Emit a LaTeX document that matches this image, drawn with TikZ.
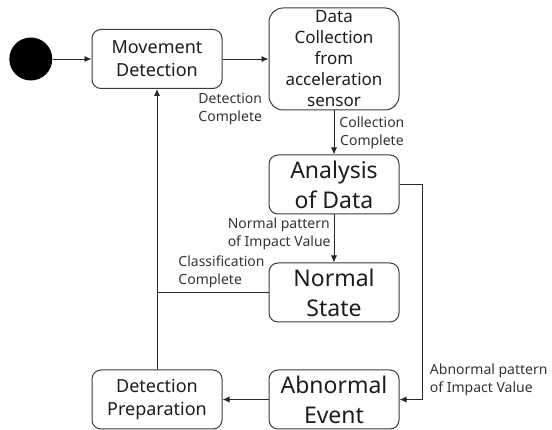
\documentclass[tikz,border=0pt]{standalone}
\usepackage{fontspec}
\setmainfont{Noto Sans}
\usetikzlibrary{positioning,arrows.meta,calc}
\definecolor{boxline}{HTML}{3A3A3A}
\definecolor{boxtext}{HTML}{1C1C1C}
\definecolor{lbltext}{HTML}{333333}

\begin{document}
\begin{tikzpicture}[      align=center,   minimum width  = 130pt,  inner sep=0pt,
      state/.style={draw=boxline, line width=1pt, rounded corners=9pt, text=boxtext,
                    minimum height = 59pt, font=\fontsize{18}{23}\selectfont },
   bigstate/.style={state, font=\fontsize{23}{30}\selectfont },
   datastate/.style={state, rounded corners=14pt, minimum height = 102pt,
                    font=\fontsize{17}{21}\selectfont },
      lbl/.style={minimum width=0pt, inner sep=2pt, text=lbltext,
                    font=\fontsize{14}{18}\selectfont },
      init/.style={circle, fill=black, minimum size=43pt },  ]

    \useasboundingbox (0,0) rectangle (552pt,-430pt);

    % top row
    \node[state                      ] (move)    at (157pt,-59pt) {Movement\\ Detection};
    \node[init,  left  = 39pt of move] (start)   {};
    \node[datastate, right = 46pt of move] (collect) {Data\\ Collection\\ from\\ acceleration\\ sensor};

    % right column
    \node[bigstate, below = 44pt of collect ] (analysis) {Analysis\\ of Data};
    \node[bigstate, below = 48pt of analysis] (normal)   {Normal\\ State};
    \node[bigstate, below = 47pt of normal  ] (abnormal) {Abnormal\\ Event};
    \node[state,    left  = 46pt of abnormal] (prep)     {Detection\\ Preparation};

    \coordinate (turn) at ([xshift=23pt]analysis.east);
    \coordinate (join) at (normal.west -| prep.north);

    \begin{scope}[line width=0.9pt, draw=black!85, >={Latex[length=7pt,width=6pt]} ]
        \draw[->] (start)   -- (move);
        \draw[->] (move)    -- (collect);
        \node[lbl, align=left, anchor=east] (lbl-detect)
            at ([shift={(-4pt,1pt)}]collect.south west) {Detection\\ Complete};
        \draw[->] (collect) -- node[lbl, right=3pt] (lbl-collect) {Collection\\ Complete} (analysis);
        \draw[->] (analysis) -- node[lbl, align=left, left=1pt, pos=0.4] (lbl-normal)
            {Normal pattern\\ of Impact Value} (normal);
        \draw[->] (analysis.east) -- (turn) |- node[lbl, align=left, anchor=south west,
            pos=0.5, xshift=5pt, yshift=1pt] (lbl-abnormal) {Abnormal pattern\\ of Impact Value} (abnormal.east);
        \draw[->] (abnormal) -- (prep);
        \draw[->] (prep)     -- (move);
        \draw     (normal.west) -- (join) node[lbl, align=left, anchor=south west,
            pos=1, xshift=19pt, yshift=2pt] (lbl-class) {Classification\\ Complete};
    \end{scope}

  \end{tikzpicture}
\end{document}
